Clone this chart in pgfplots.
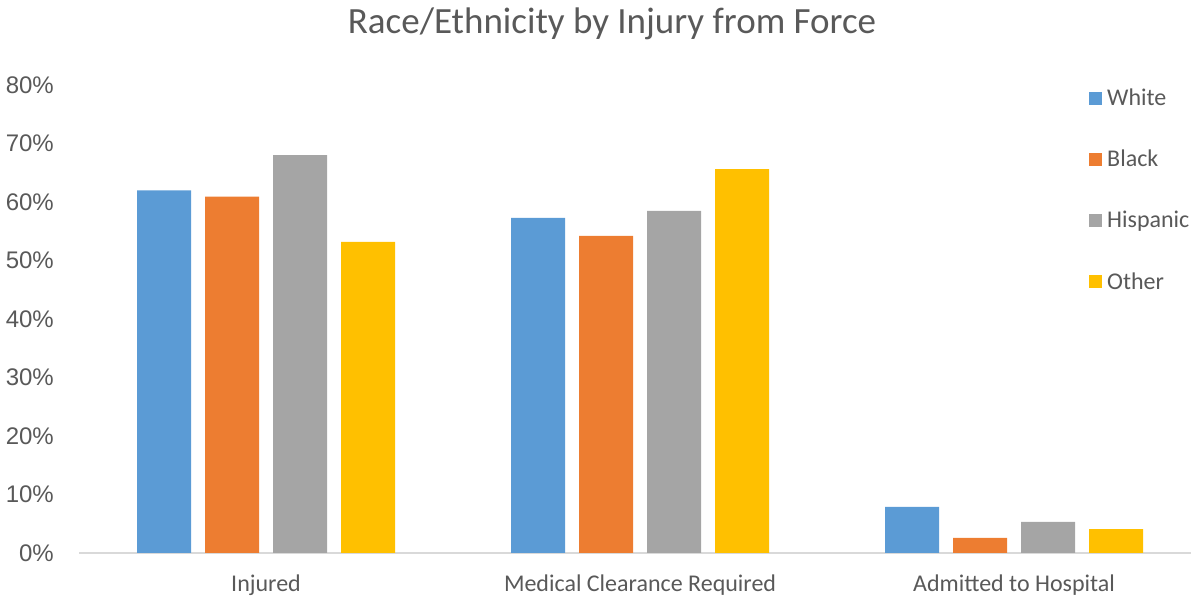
\documentclass[border=0pt]{standalone}
\usepackage{fontspec}
\setmainfont{Carlito}
\newfontfamily\arial{Liberation Sans}
\usepackage{pgfplots}
\usepackage{pgfplotstable}
\pgfplotsset{compat=1.18}

\definecolor{cwhite}{HTML}{5B9BD5}
\definecolor{cblack}{HTML}{ED7D31}
\definecolor{chisp}{HTML}{A5A5A5}
\definecolor{cother}{HTML}{FFC000}
\definecolor{txt}{HTML}{595959}
\definecolor{axisgray}{HTML}{D9D9D9}

% percent of each group, by category
\pgfplotstableread{
x white black hispanic other
0 62.0 60.9 68.0 53.2
1 57.3 54.2 58.5 65.6
2 7.9  2.6  5.3  4.1
}\injury

\begin{document}
\begin{tikzpicture}
\useasboundingbox (0pt,0pt) rectangle (1191pt,596pt);
\begin{axis}[
    at={(79pt,43pt)}, anchor=south west,
    scale only axis, width=1112pt, height=468pt,
    ymin=0, ymax=80, xmin=-0.5, xmax=2.473,
    ybar=14pt, bar width=54pt,
    axis lines*=left,
    y axis line style={draw=none},
    x axis line style={draw=axisgray, line width=1.5pt},
    major tick length=0pt,
    ytick={0,10,...,80},
    /pgf/number format/assume math mode=true,
    yticklabel={\pgfmathprintnumber{\tick}\%},
    yticklabel style={font=\arial\fontsize{24}{24}\selectfont, text=txt, anchor=east, inner sep=0pt, xshift=-25pt},
    xtick={0,1,2},
    xticklabels={Injured, Medical Clearance Required, Admitted to Hospital},
    xticklabel style={font=\fontsize{24}{24}\selectfont, text=txt, anchor=base, inner sep=0pt, yshift=-39pt},
    legend image code/.code={\fill (0pt,-6.5pt) rectangle (13pt,6.5pt);},
    legend style={draw=none, fill=none, at={(0.9083,0.996)}, anchor=north west,
        font=\fontsize{24}{24}\selectfont, text=txt, row sep=39pt,
        cells={anchor=west}, inner sep=0pt,
        /tikz/every odd column/.append style={column sep=3pt}},
]
\addplot[fill=cwhite, draw=none] table[x=x, y=white] {\injury};
\addplot[fill=cblack, draw=none] table[x=x, y=black] {\injury};
\addplot[fill=chisp, draw=none] table[x=x, y=hispanic] {\injury};
\addplot[fill=cother, draw=none] table[x=x, y=other] {\injury};
\legend{White, Black, Hispanic, Other}
\end{axis}
\node[anchor=base, font=\fontsize{37}{37}\selectfont, text=txt] at (612pt,562pt) {Race/Ethnicity by Injury from Force};
\end{tikzpicture}
\end{document}
